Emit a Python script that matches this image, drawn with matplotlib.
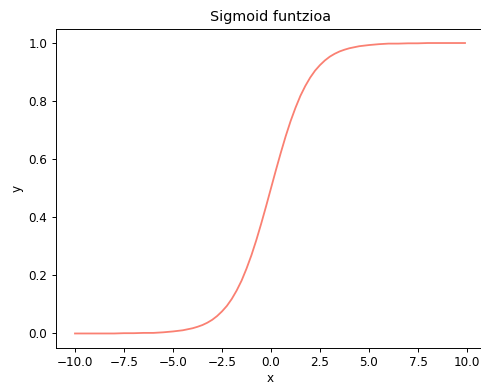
import matplotlib
matplotlib.use("Agg")
import matplotlib.pyplot as plt

# values
x_vals = [-10, -9.5, -9, -8.5, -8, -7.5, -7, -6.5, -6, -5.5, -5, -4.5, -4,
          -3.75, -3.5, -3.25, -3, -2.75, -2.5, -2.25, -2, -1.75, -1.5, -1.25,
          -1, -0.75, -0.5, -0.25, 0, 0.25, 0.5, 0.75, 1, 1.25, 1.5, 1.75,
          2, 2.25, 2.5, 2.75, 3, 3.25, 3.5, 3.75, 4, 4.5, 5, 5.5, 6, 6.5,
          7, 7.5, 8, 8.5, 9, 9.5, 9.9]
y_vals = [0.000, 0.000, 0.000, 0.000, 0.000, 0.001, 0.001, 0.002, 0.002,
          0.004, 0.007, 0.011, 0.018, 0.023, 0.029, 0.037, 0.047, 0.060,
          0.076, 0.095, 0.119, 0.148, 0.182, 0.223, 0.269, 0.321, 0.378,
          0.438, 0.500, 0.562, 0.622, 0.679, 0.731, 0.777, 0.818, 0.852,
          0.881, 0.905, 0.924, 0.940, 0.953, 0.963, 0.971, 0.977, 0.982,
          0.989, 0.993, 0.996, 0.998, 0.998, 0.999, 0.999, 1.000, 1.000,
          1.000, 1.000, 1.000]

dpi = 86.5
fig = plt.figure(figsize=(481 / dpi, 385 / dpi), dpi=dpi)
ax = fig.add_axes([55.5 / 481, 37 / 385, 429 / 481, 319.5 / 385])

ax.plot(x_vals, y_vals, color="salmon")
ax.set_title("Sigmoid funtzioa")
ax.set_xlabel("x", labelpad=2.5)
ax.set_ylabel("y")

fig.savefig("out.png", dpi=dpi)
